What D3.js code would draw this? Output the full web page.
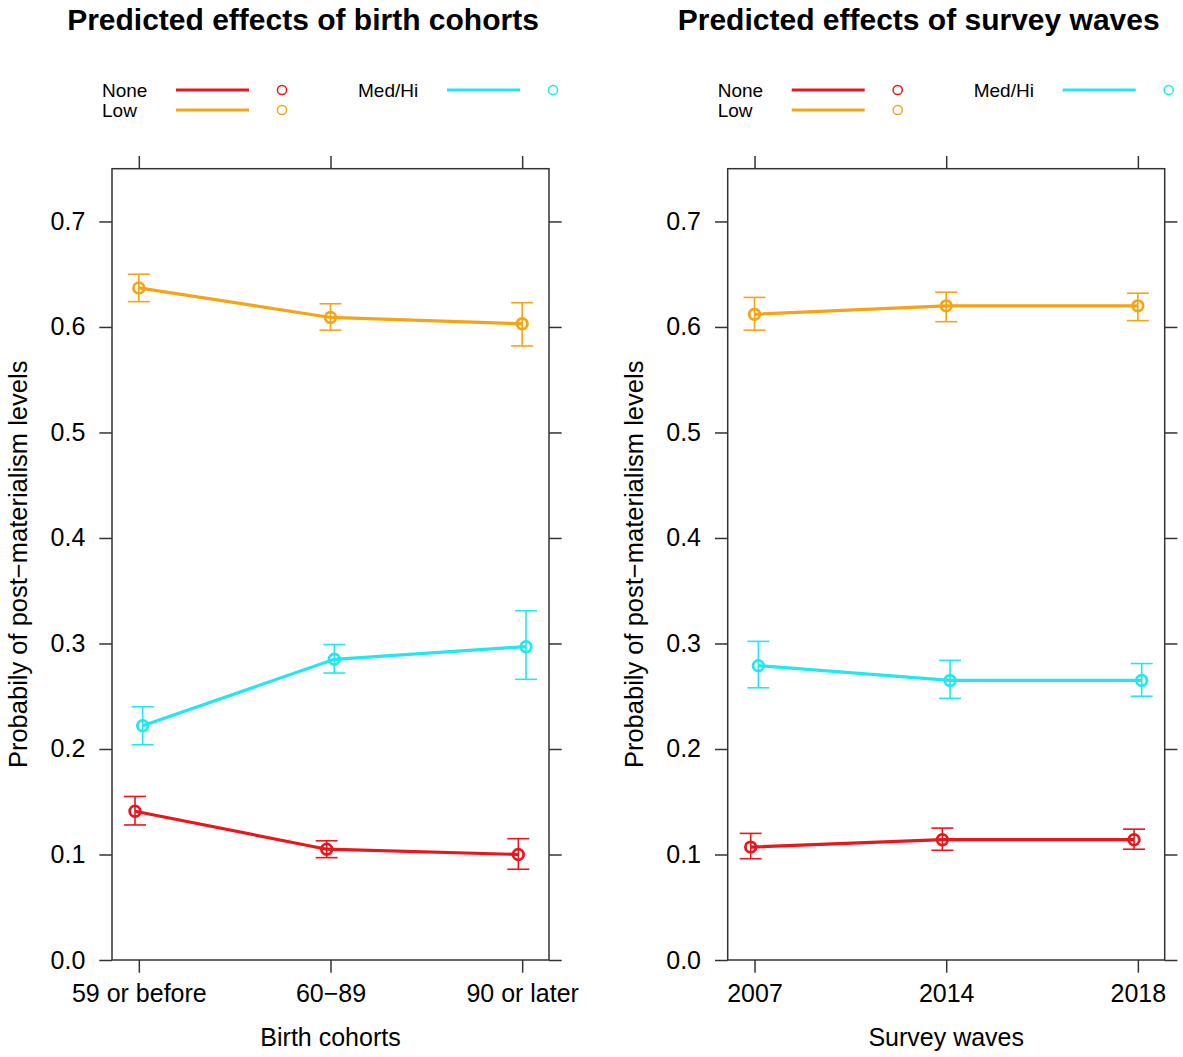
<!DOCTYPE html>
<html>
<head>
<meta charset="utf-8">
<script src="https://cdn.jsdelivr.net/npm/d3@7/dist/d3.min.js"></script>
<style>
  html, body { margin: 0; padding: 0; background: #fff; }
  svg { display: block; font-family: "Liberation Sans", Arial, sans-serif; }
</style>
</head>
<body>
<svg id="chart" width="1183" height="1057"></svg>
<script>
// ---------------- DATA ----------------
const seriesNames = ["None", "Low", "Med/Hi"];
const seriesColors = ["#e8161d", "#f5a417", "#22e7ef"];

const cohortCategories = ["59 or before", "60\u221289", "90 or later"];
const cohortFit   = { "None": [0.141, 0.105, 0.100], "Low": [0.637, 0.609, 0.603], "Med/Hi": [0.222, 0.285, 0.297] };
const cohortLower = { "None": [0.128, 0.097, 0.086], "Low": [0.624, 0.597, 0.582], "Med/Hi": [0.204, 0.272, 0.266] };
const cohortUpper = { "None": [0.155, 0.113, 0.115], "Low": [0.650, 0.622, 0.623], "Med/Hi": [0.240, 0.299, 0.331] };

const waveCategories = ["2007", "2014", "2018"];
const waveFit   = { "None": [0.107, 0.114, 0.114], "Low": [0.612, 0.620, 0.620], "Med/Hi": [0.279, 0.265, 0.265] };
const waveLower = { "None": [0.096, 0.104, 0.105], "Low": [0.597, 0.605, 0.606], "Med/Hi": [0.258, 0.248, 0.250] };
const waveUpper = { "None": [0.120, 0.125, 0.124], "Low": [0.628, 0.633, 0.632], "Med/Hi": [0.302, 0.284, 0.281] };

const yTicks = [0.0, 0.1, 0.2, 0.3, 0.4, 0.5, 0.6, 0.7];
const yLabel = "Probabily of post\u2212materialism levels";

const panels = [
  { title: "Predicted effects of birth cohorts", xLabel: "Birth cohorts", cats: cohortCategories, fit: cohortFit, lo: cohortLower, hi: cohortUpper, dx: 0 },
  { title: "Predicted effects of survey waves", xLabel: "Survey waves", cats: waveCategories, fit: waveFit, lo: waveLower, hi: waveUpper, dx: 615.7 }
];

// ---------------- LAYOUT ----------------
const box = { left: 112, right: 549, top: 168.7, bottom: 960 };
const seriesOffset = [-0.02, 0, 0.02];
const tickLen = 12.7;
const capHalf = 11;

const svg = d3.select("#chart");

const y = d3.scaleLinear().domain([0, 0.75]).range([box.bottom, box.top]);
const x = d3.scaleLinear().domain([0.86, 3.14]).range([box.left, box.right]);

panels.forEach(p => {
  const g = svg.append("g").attr("transform", `translate(${p.dx},0)`);

  // Title
  g.append("text")
    .attr("x", 303).attr("y", 30)
    .attr("text-anchor", "middle")
    .attr("font-weight", "bold")
    .attr("font-size", 30)
    .attr("fill", "#000")
    .text(p.title);

  // Legend
  const legendCols = [
    { names: ["None", "Low"], textX: 102, lineX0: 176, lineX1: 249, circX: 282 },
    { names: ["Med/Hi"], textX: 358, lineX0: 447, lineX1: 520, circX: 553 }
  ];
  legendCols.forEach(col => {
    col.names.forEach((name, i) => {
      const si = seriesNames.indexOf(name);
      const cy = 90 + i * 20;
      g.append("text").attr("x", col.textX).attr("y", cy).attr("dy", "0.35em")
        .attr("font-size", 19).attr("fill", "#000").text(name);
      g.append("line").attr("x1", col.lineX0).attr("x2", col.lineX1).attr("y1", cy).attr("y2", cy)
        .attr("stroke", seriesColors[si]).attr("stroke-width", 3);
      g.append("circle").attr("cx", col.circX).attr("cy", cy).attr("r", 4.6)
        .attr("fill", "none").attr("stroke", seriesColors[si]).attr("stroke-width", 1.5);
    });
  });

  // Axes (ticks only; box drawn separately)
  const xVals = [1, 2, 3];
  const axisBottom = d3.axisBottom(x).tickValues(xVals).tickSize(tickLen).tickFormat(d => p.cats[d - 1]).tickPadding(12);
  const axisTop = d3.axisTop(x).tickValues(xVals).tickSize(tickLen).tickFormat("");
  const axisLeft = d3.axisLeft(y).tickValues(yTicks).tickSize(tickLen).tickFormat(d3.format(".1f")).tickPadding(14);
  const axisRight = d3.axisRight(y).tickValues(yTicks).tickSize(tickLen).tickFormat("");

  const styleAxis = sel => {
    sel.select(".domain").remove();
    sel.selectAll(".tick line").attr("stroke", "#333").attr("stroke-width", 1.5);
    sel.selectAll(".tick text").attr("font-size", 25).attr("fill", "#000").attr("font-family", "Liberation Sans, Arial, sans-serif");
  };
  g.append("g").attr("transform", `translate(0,${box.bottom})`).call(axisBottom).call(styleAxis);
  g.append("g").attr("transform", `translate(0,${box.top})`).call(axisTop).call(styleAxis);
  g.append("g").attr("transform", `translate(${box.left},0)`).call(axisLeft).call(styleAxis);
  g.append("g").attr("transform", `translate(${box.right},0)`).call(axisRight).call(styleAxis);

  // Box
  g.append("rect").attr("x", box.left).attr("y", box.top)
    .attr("width", box.right - box.left).attr("height", box.bottom - box.top)
    .attr("fill", "none").attr("stroke", "#333").attr("stroke-width", 1.5);

  // Axis labels
  g.append("text").attr("x", (box.left + box.right) / 2).attr("y", 1046)
    .attr("text-anchor", "middle").attr("font-size", 25).attr("fill", "#000").text(p.xLabel);
  g.append("text").attr("transform", `translate(27,${(box.top + box.bottom) / 2}) rotate(-90)`)
    .attr("text-anchor", "middle").attr("font-size", 25.5).attr("fill", "#000").text(yLabel);

  // Series
  seriesNames.forEach((name, si) => {
    const col = seriesColors[si];
    const off = seriesOffset[si];
    const pts = p.fit[name].map((v, i) => ({ xv: i + 1 + off, v, lo: p.lo[name][i], hi: p.hi[name][i] }));
    const sg = g.append("g");

    sg.append("path").datum(pts)
      .attr("d", d3.line().x(d => x(d.xv)).y(d => y(d.v)))
      .attr("fill", "none").attr("stroke", col).attr("stroke-width", 3.2);

    // error bars
    const eb = sg.selectAll(".eb").data(pts).enter().append("g");
    eb.append("line").attr("x1", d => x(d.xv)).attr("x2", d => x(d.xv))
      .attr("y1", d => y(d.lo)).attr("y2", d => y(d.hi))
      .attr("stroke", col).attr("stroke-width", 1.6);
    eb.append("line").attr("x1", d => x(d.xv) - capHalf).attr("x2", d => x(d.xv) + capHalf)
      .attr("y1", d => y(d.lo)).attr("y2", d => y(d.lo))
      .attr("stroke", col).attr("stroke-width", 1.6);
    eb.append("line").attr("x1", d => x(d.xv) - capHalf).attr("x2", d => x(d.xv) + capHalf)
      .attr("y1", d => y(d.hi)).attr("y2", d => y(d.hi))
      .attr("stroke", col).attr("stroke-width", 1.6);

    sg.selectAll("circle.pt").data(pts).enter().append("circle")
      .attr("class", "pt")
      .attr("cx", d => x(d.xv)).attr("cy", d => y(d.v)).attr("r", 5.3)
      .attr("fill", "none").attr("stroke", col).attr("stroke-width", 2.8);
  });
});
</script>
</body>
</html>
